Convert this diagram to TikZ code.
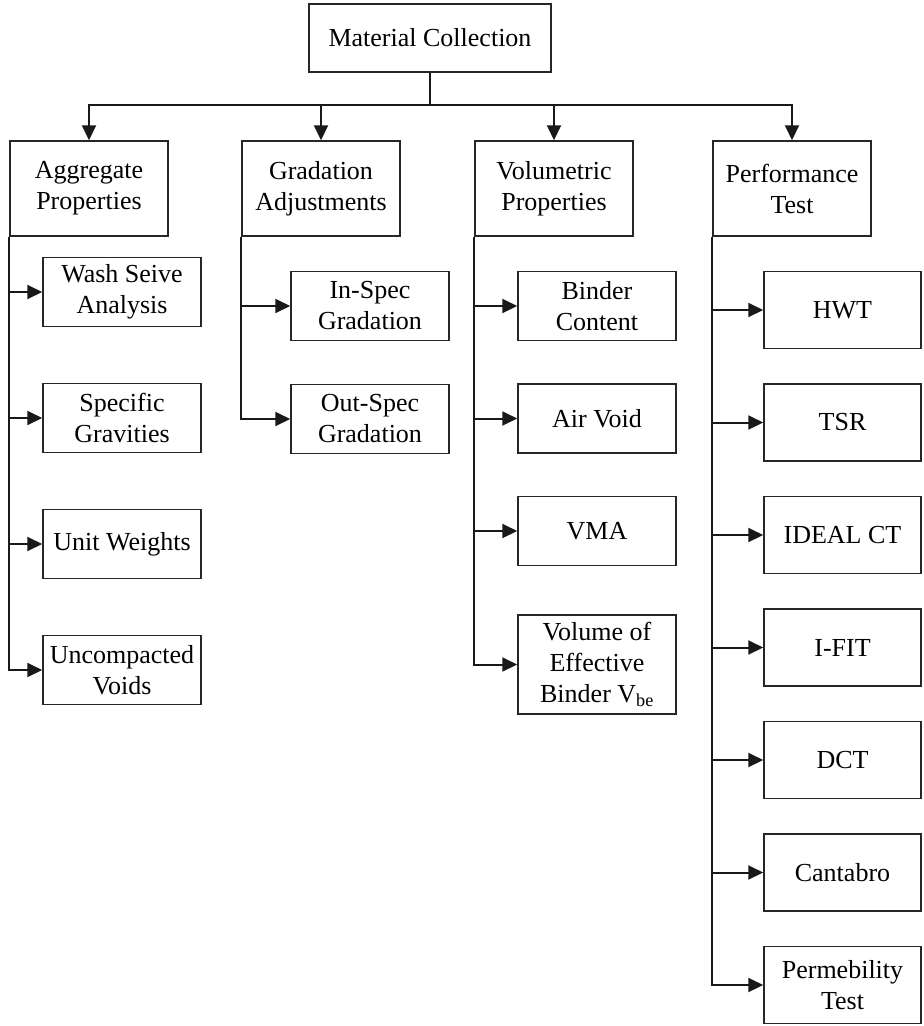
\documentclass[tikz,border=0pt]{standalone}
\usepackage{fontspec}
\setmainfont{Liberation Serif}
\usetikzlibrary{arrows.meta, positioning}

\begin{document}
\begin{tikzpicture}[
		x=1pt, y=1pt,
		>={Triangle[length=15pt, width=14pt]},
		node distance=55.5pt,
		box/.style={draw=black!85, line width=1.5pt, align=center,
			font=\fontsize{26}{31}\selectfont, inner sep=2pt},
		headbox/.style={box, minimum width=242pt, minimum height=68pt},
		groupbox/.style={box, minimum width=158pt, minimum height=95pt},
		itembox/.style={box, minimum width=158pt, minimum height=69pt},
		testbox/.style={box, minimum width=157pt, minimum height=77pt},
		arr/.style={->, line width=2pt, draw=black!90},
		trunk/.style={line width=2pt, draw=black!90},
	]
		\useasboundingbox (0,0) rectangle (924,-1026);

		% Top block
		\node[headbox] (mat) at (430,-38) {Material Collection};

		% Main groups
		\node[groupbox] (agg) at (89,-188.5) {Aggregate\\Properties};
		\node[groupbox, right=72.5pt of agg] (grad) {Gradation\\Adjustments};
		\node[groupbox, right=73.5pt of grad] (vol) {Volumetric\\Properties};
		\node[groupbox, right=78.5pt of vol] (perf) {Performance\\Test};

		% Distribution bus
		\coordinate[below=32pt of mat.south] (bus);
		\draw[trunk] (mat.south) -- (bus);
		\draw[arr] (bus) -| (agg);
		\draw[arr] (bus) -| (grad);
		\draw[arr] (bus) -| (vol);
		\draw[arr] (bus) -| (perf);

		% Aggregate properties
		\node[itembox, below right=20pt and 33pt of agg.south west] (wash) {Wash Seive\\Analysis};
		\node[itembox, below=of wash] (spec) {Specific\\Gravities};
		\node[itembox, below=of spec] (unit) {Unit Weights};
		\node[itembox, below=of unit] (uncomp) {Uncompacted\\Voids};

		% Gradation adjustments
		\node[itembox, below right=34pt and 49pt of grad.south west] (inspec) {In-Spec\\Gradation};
		\node[itembox, below=42.5pt of inspec] (outspec) {Out-Spec\\Gradation};

		% Volumetric properties
		\node[itembox, below right=34pt and 43pt of vol.south west] (binder) {Binder\\Content};
		\node[itembox, below=42pt of binder] (air) {Air Void};
		\node[itembox, below=42pt of air] (vma) {VMA};
		\node[itembox, minimum height=99pt, below=48pt of vma] (vbe) {Volume of\\Effective\\Binder V\textsubscript{be}};

		% Performance tests
		\node[testbox, below right=34pt and 51pt of perf.south west] (hwt) {HWT};
		\node[testbox, below=34pt of hwt] (tsr) {TSR};
		\node[testbox, below=34pt of tsr] (ideal) {IDEAL CT};
		\node[testbox, below=34pt of ideal] (ifit) {I-FIT};
		\node[testbox, below=34pt of ifit] (dct) {DCT};
		\node[testbox, below=34pt of dct] (cant) {Cantabro};
		\node[testbox, below=34pt of cant] (perm) {Permebility\\Test};

		% Branch arrows
		\draw[arr] (agg.south west) |- (wash);
		\draw[arr] (agg.south west) |- (spec);
		\draw[arr] (agg.south west) |- (unit);
		\draw[arr] (agg.south west) |- (uncomp);

		\draw[arr] (grad.south west) |- (inspec);
		\draw[arr] (grad.south west) |- (outspec);

		\draw[arr] (vol.south west) |- (binder);
		\draw[arr] (vol.south west) |- (air);
		\draw[arr] (vol.south west) |- (vma);
		\draw[arr] (vol.south west) |- (vbe);

		\draw[arr] (perf.south west) |- (hwt);
		\draw[arr] (perf.south west) |- (tsr);
		\draw[arr] (perf.south west) |- (ideal);
		\draw[arr] (perf.south west) |- (ifit);
		\draw[arr] (perf.south west) |- (dct);
		\draw[arr] (perf.south west) |- (cant);
		\draw[arr] (perf.south west) |- (perm);
	\end{tikzpicture}
\end{document}
